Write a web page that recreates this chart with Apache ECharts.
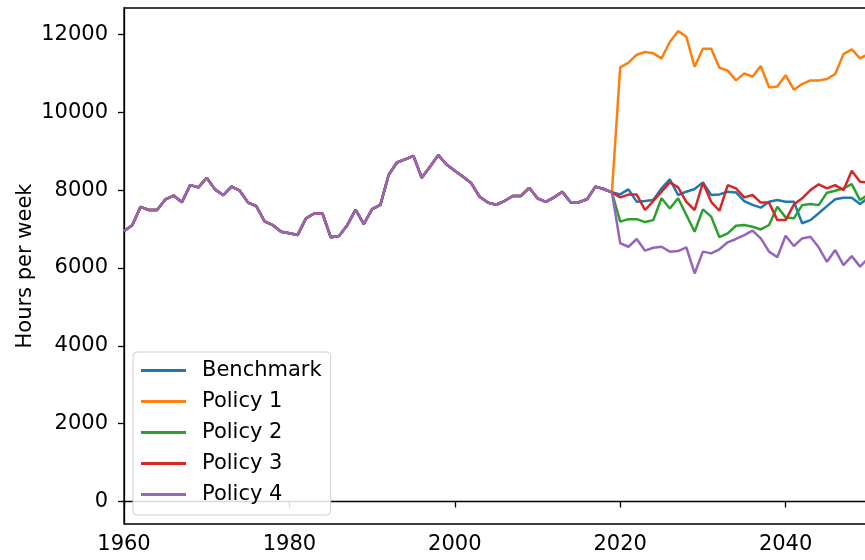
<!DOCTYPE html>
<html>
<head>
<meta charset="utf-8">
<title>Hours per week</title>
<script src="https://cdn.jsdelivr.net/npm/echarts@6/dist/echarts.min.js"></script>
<style>
  html, body { margin: 0; padding: 0; background: #fff; }
  #chart { width: 865px; height: 560px; }
</style>
</head>
<body>
<div id="chart"></div>
<script>
// shared history 1960-2019
var pastValues = [
  6950, 7100, 7570, 7490, 7490, 7760, 7860, 7690, 8130, 8070,
  8320, 8020, 7870, 8090, 7985, 7680, 7590, 7200, 7100, 6930,
  6890, 6850, 7275, 7400, 7400, 6790, 6820, 7100, 7500, 7130,
  7515, 7620, 8390, 8710, 8790, 8880, 8320, 8600, 8900, 8660,
  8500, 8345, 8175, 7830, 7680, 7625, 7720, 7850, 7850, 8060,
  7790, 7700, 7815, 7960, 7690, 7690, 7765, 8090, 8030, 7945
];

// projections 2020-2050
var benchmark = [7890, 8020, 7700, 7720, 7745, 8045, 8275, 7875, 7960, 8030,
  8200, 7875, 7890, 7960, 7940, 7720, 7620, 7550, 7700, 7745,
  7700, 7700, 7150, 7230, 7405, 7590, 7765, 7805, 7805, 7645, 7800];
var policy1 = [11155, 11275, 11480, 11550, 11515, 11385, 11805, 12085, 11940, 11170,
  11635, 11635, 11145, 11070, 10820, 11000, 10915, 11190, 10640, 10665,
  10955, 10580, 10725, 10820, 10820, 10855, 10985, 11495, 11615, 11385, 11500];
var policy2 = [7190, 7255, 7255, 7180, 7230, 7790, 7530, 7790, 7360, 6930,
  7505, 7320, 6790, 6890, 7085, 7105, 7060, 6990, 7105, 7575,
  7300, 7275, 7615, 7645, 7615, 7935, 7985, 8045, 8155, 7745, 7890];
var policy3 = [7815, 7885, 7885, 7490, 7720, 7960, 8200, 8070, 7700, 7490,
  8190, 7700, 7470, 8130, 8045, 7815, 7875, 7680, 7680, 7230,
  7230, 7630, 7790, 8000, 8150, 8045, 8130, 8000, 8500, 8215, 8190];
var policy4 = [6635, 6545, 6745, 6445, 6520, 6545, 6420, 6435, 6530, 5860,
  6420, 6375, 6480, 6660, 6745, 6845, 6960, 6760, 6420, 6275,
  6830, 6565, 6760, 6805, 6530, 6160, 6460, 6075, 6305, 6035, 6250];

var names = ['Benchmark', 'Policy 1', 'Policy 2', 'Policy 3', 'Policy 4'];
var colors = ['#1f77b4', '#ff7f0e', '#2ca02c', '#d62728', '#9467bd'];
var yTicks = [0, 2000, 4000, 6000, 8000, 10000, 12000];

function pairs(future) {
  var vals = pastValues.concat(future);
  var out = [];
  for (var i = 0; i < vals.length; i++) out.push([1960 + i, vals[i]]);
  return out;
}

var futures = [benchmark, policy1, policy2, policy3, policy4];
var series = [];
for (var k = 0; k < names.length; k++) {
  series.push({
    name: names[k],
    type: 'line',
    data: pairs(futures[k]),
    showSymbol: false,
    lineStyle: { width: 2.5, color: colors[k] },
    itemStyle: { color: colors[k] },
    animation: false
  });
}

var font = 'DejaVu Sans';
var plain = function (v) { return String(v); };
var chart = echarts.init(document.getElementById('chart'), null, { renderer: 'canvas' });
chart.setOption({
  animation: false,
  grid: {
    left: 124, top: 8, bottom: 36, right: -86,
    outerBoundsMode: 'none',
    containLabel: false,
    show: true, borderColor: '#000', borderWidth: 1.3, backgroundColor: 'transparent'
  },
  legend: {
    left: 133, top: 352,
    orient: 'vertical',
    icon: 'rect',
    itemWidth: 45, itemHeight: 3, itemGap: 8,
    padding: [7, 9, 9, 8],
    borderColor: '#d0d0d0', borderWidth: 1, borderRadius: 4,
    backgroundColor: 'rgba(255,255,255,0.85)',
    textStyle: { fontFamily: font, fontSize: 21, color: '#000', lineHeight: 23, padding: [0, 0, 0, 11] },
    data: names
  },
  xAxis: {
    type: 'value',
    min: 1960, max: 2060, interval: 20,
    axisLine: { show: true, lineStyle: { color: '#000', width: 1.3 } },
    axisTick: { show: true, inside: false, length: 6, lineStyle: { color: '#000', width: 1.3 } },
    axisLabel: { fontFamily: font, fontSize: 21, color: '#000', margin: 10, formatter: plain },
    splitLine: { show: false }
  },
  yAxis: {
    type: 'value',
    min: -578, max: 12680,
    name: 'Hours per week',
    nameLocation: 'middle',
    nameGap: 88,
    nameMoveOverlap: false,
    nameTextStyle: { fontFamily: font, fontSize: 21, color: '#000' },
    axisLine: { show: true, lineStyle: { color: '#000', width: 1.3 } },
    axisTick: { show: true, inside: false, length: 6, customValues: yTicks, lineStyle: { color: '#000', width: 1.3 } },
    axisLabel: { fontFamily: font, fontSize: 21, color: '#000', margin: 16, customValues: yTicks, formatter: plain },
    splitLine: { show: false }
  },
  series: series
});
</script>
</body>
</html>
